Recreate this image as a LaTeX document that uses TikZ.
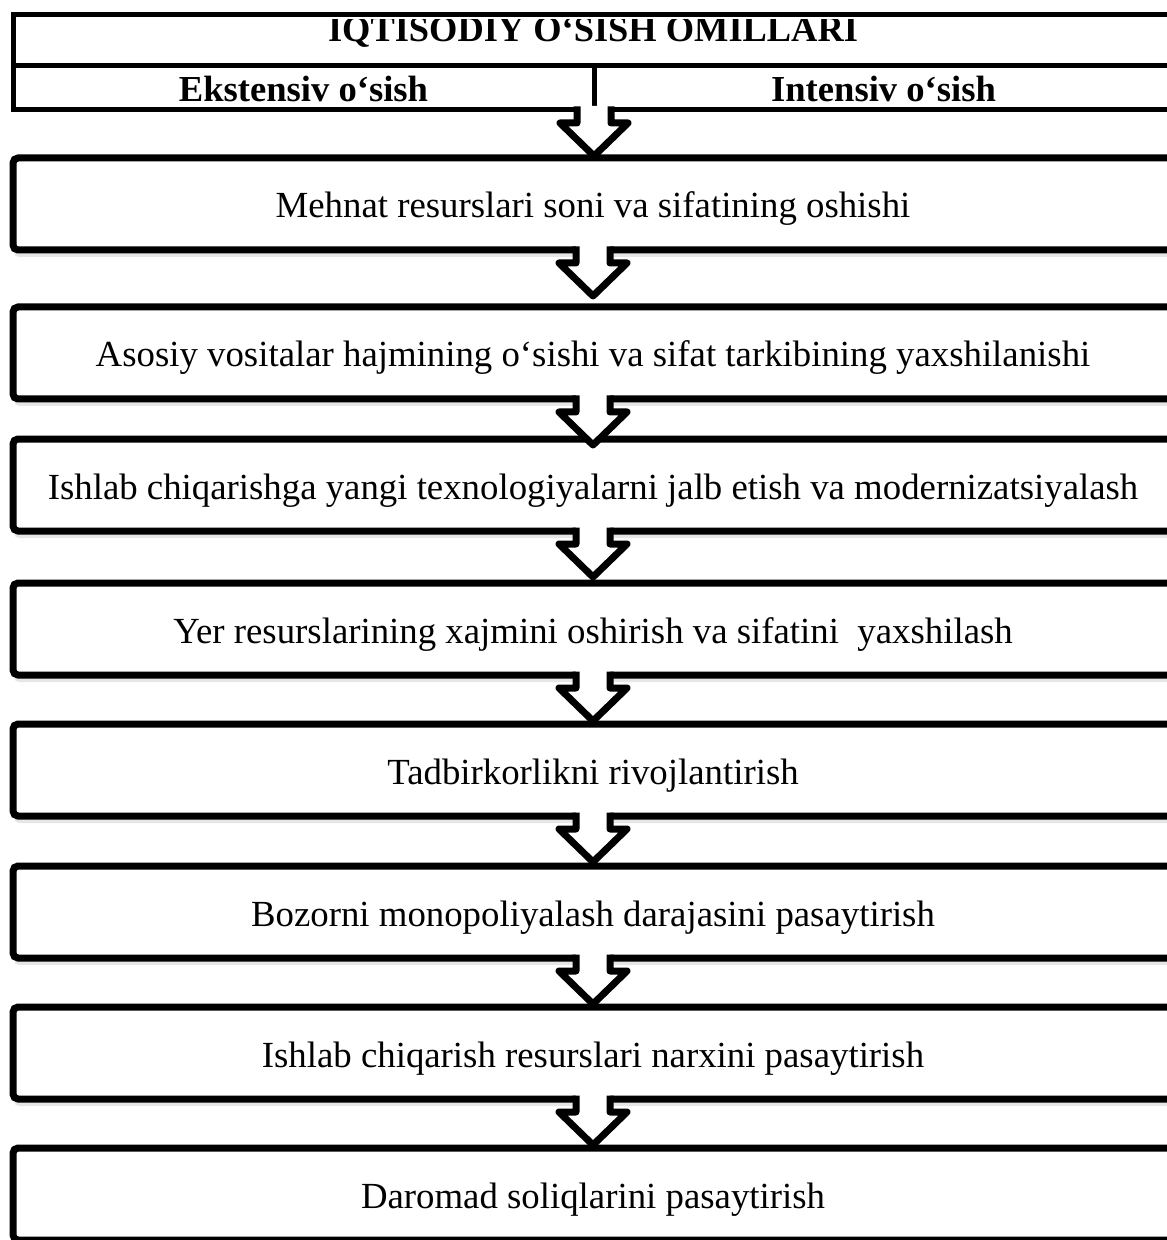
\documentclass[tikz,border=0pt]{standalone}
\usepackage{fontspec}
\setmainfont{Liberation Serif}
\usetikzlibrary{positioning, calc, shadows}
\tikzset{
    factorbox/.style={rectangle, rounded corners=2.5pt, draw=black, fill=white, line width=3.5pt,
        minimum width=580pt, minimum height=46pt, inner sep=0pt, outer sep=0pt,
        text height=14pt, text depth=0pt, font=\fontsize{18.4}{22}\selectfont,
        drop shadow={shadow xshift=0.5pt, shadow yshift=-3.5pt, opacity=0.2}},
    headcell/.style={rectangle, draw=black, line width=2.5pt, minimum height=22pt,
        inner sep=0pt, outer sep=0pt, text height=14pt, text depth=0pt,
        font=\fontsize{18.3}{22}\selectfont\bfseries},
    titletext/.style={inner sep=0pt, font=\fontsize{18.2}{22}\selectfont\bfseries},
}

\begin{document}
\begin{tikzpicture}[
        x=0.5pt, y=-0.5pt,
        % Freccia a blocco vuota tra due riquadri
        blockarrow/.pic={
            \fill[white] (-17,-4) -- (-17,13) -- (-34,13) -- (0,46) -- (34,13) -- (17,13) -- (17,-4) -- cycle;
            \draw[line width=3.5pt, line join=round] (-17,-3.5) -- (-17,13) -- (-34,13) -- (0,46)
                -- (34,13) -- (17,13) -- (17,-3.5);
        }
    ]
        \useasboundingbox (0,0) rectangle (1166,1240);

        % 1. Intestazione: titolo (tagliato in alto) e le due colonne
        \begin{scope}
            \clip (13,20) rectangle (1173,66);
            \node[titletext, anchor=base] (title) at (593,42) {IQTISODIY O‘SISH OMILLARI};
        \end{scope}
        \node[headcell, minimum width=580pt, minimum height=25.5pt] (head) at (593,40.5) {};

        \node[headcell, minimum width=290.5pt, anchor=north west] (ext) at (head.south west) {Ekstensiv o‘sish};
        \node[headcell, minimum width=289.5pt, anchor=north east] (int) at (head.south east) {Intensiv o‘sish};

        % 2. I fattori, uno sotto l'altro
        \node[factorbox] (b1) at (593,204) {Mehnat resurslari soni va sifatining oshishi};

        \node[factorbox, below=28.5pt of b1] (b2) {Asosiy vositalar hajmining o‘sishi va sifat tarkibining yaxshilanishi};

        \node[factorbox, below=20pt of b2] (b3) {Ishlab chiqarishga yangi texnologiyalarni jalb etish va modernizatsiyalash};

        \node[factorbox, below=26pt of b3] (b4) {Yer resurslarining xajmini oshirish va sifatini \ yaxshilash};

        \node[factorbox, below=24.5pt of b4] (b5) {Tadbirkorlikni rivojlantirish};

        \node[factorbox, below=25pt of b5] (b6) {Bozorni monopoliyalash darajasini pasaytirish};

        \node[factorbox, below=24.5pt of b6] (b7) {Ishlab chiqarish resurslari narxini pasaytirish};

        \node[factorbox, below=24.5pt of b7] (b8) {Daromad soliqlarini pasaytirish};

        % 3. Frecce a blocco (sopra ai bordi)
        \pic at (ext.south east) {blockarrow};
        \pic at (b1.south) {blockarrow};
        \pic at (b2.south) {blockarrow};
        \pic at (b3.south) {blockarrow};
        \pic at (b4.south) {blockarrow};
        \pic at (b5.south) {blockarrow};
        \pic at (b6.south) {blockarrow};
        \pic at (b7.south) {blockarrow};

    \end{tikzpicture}
\end{document}
